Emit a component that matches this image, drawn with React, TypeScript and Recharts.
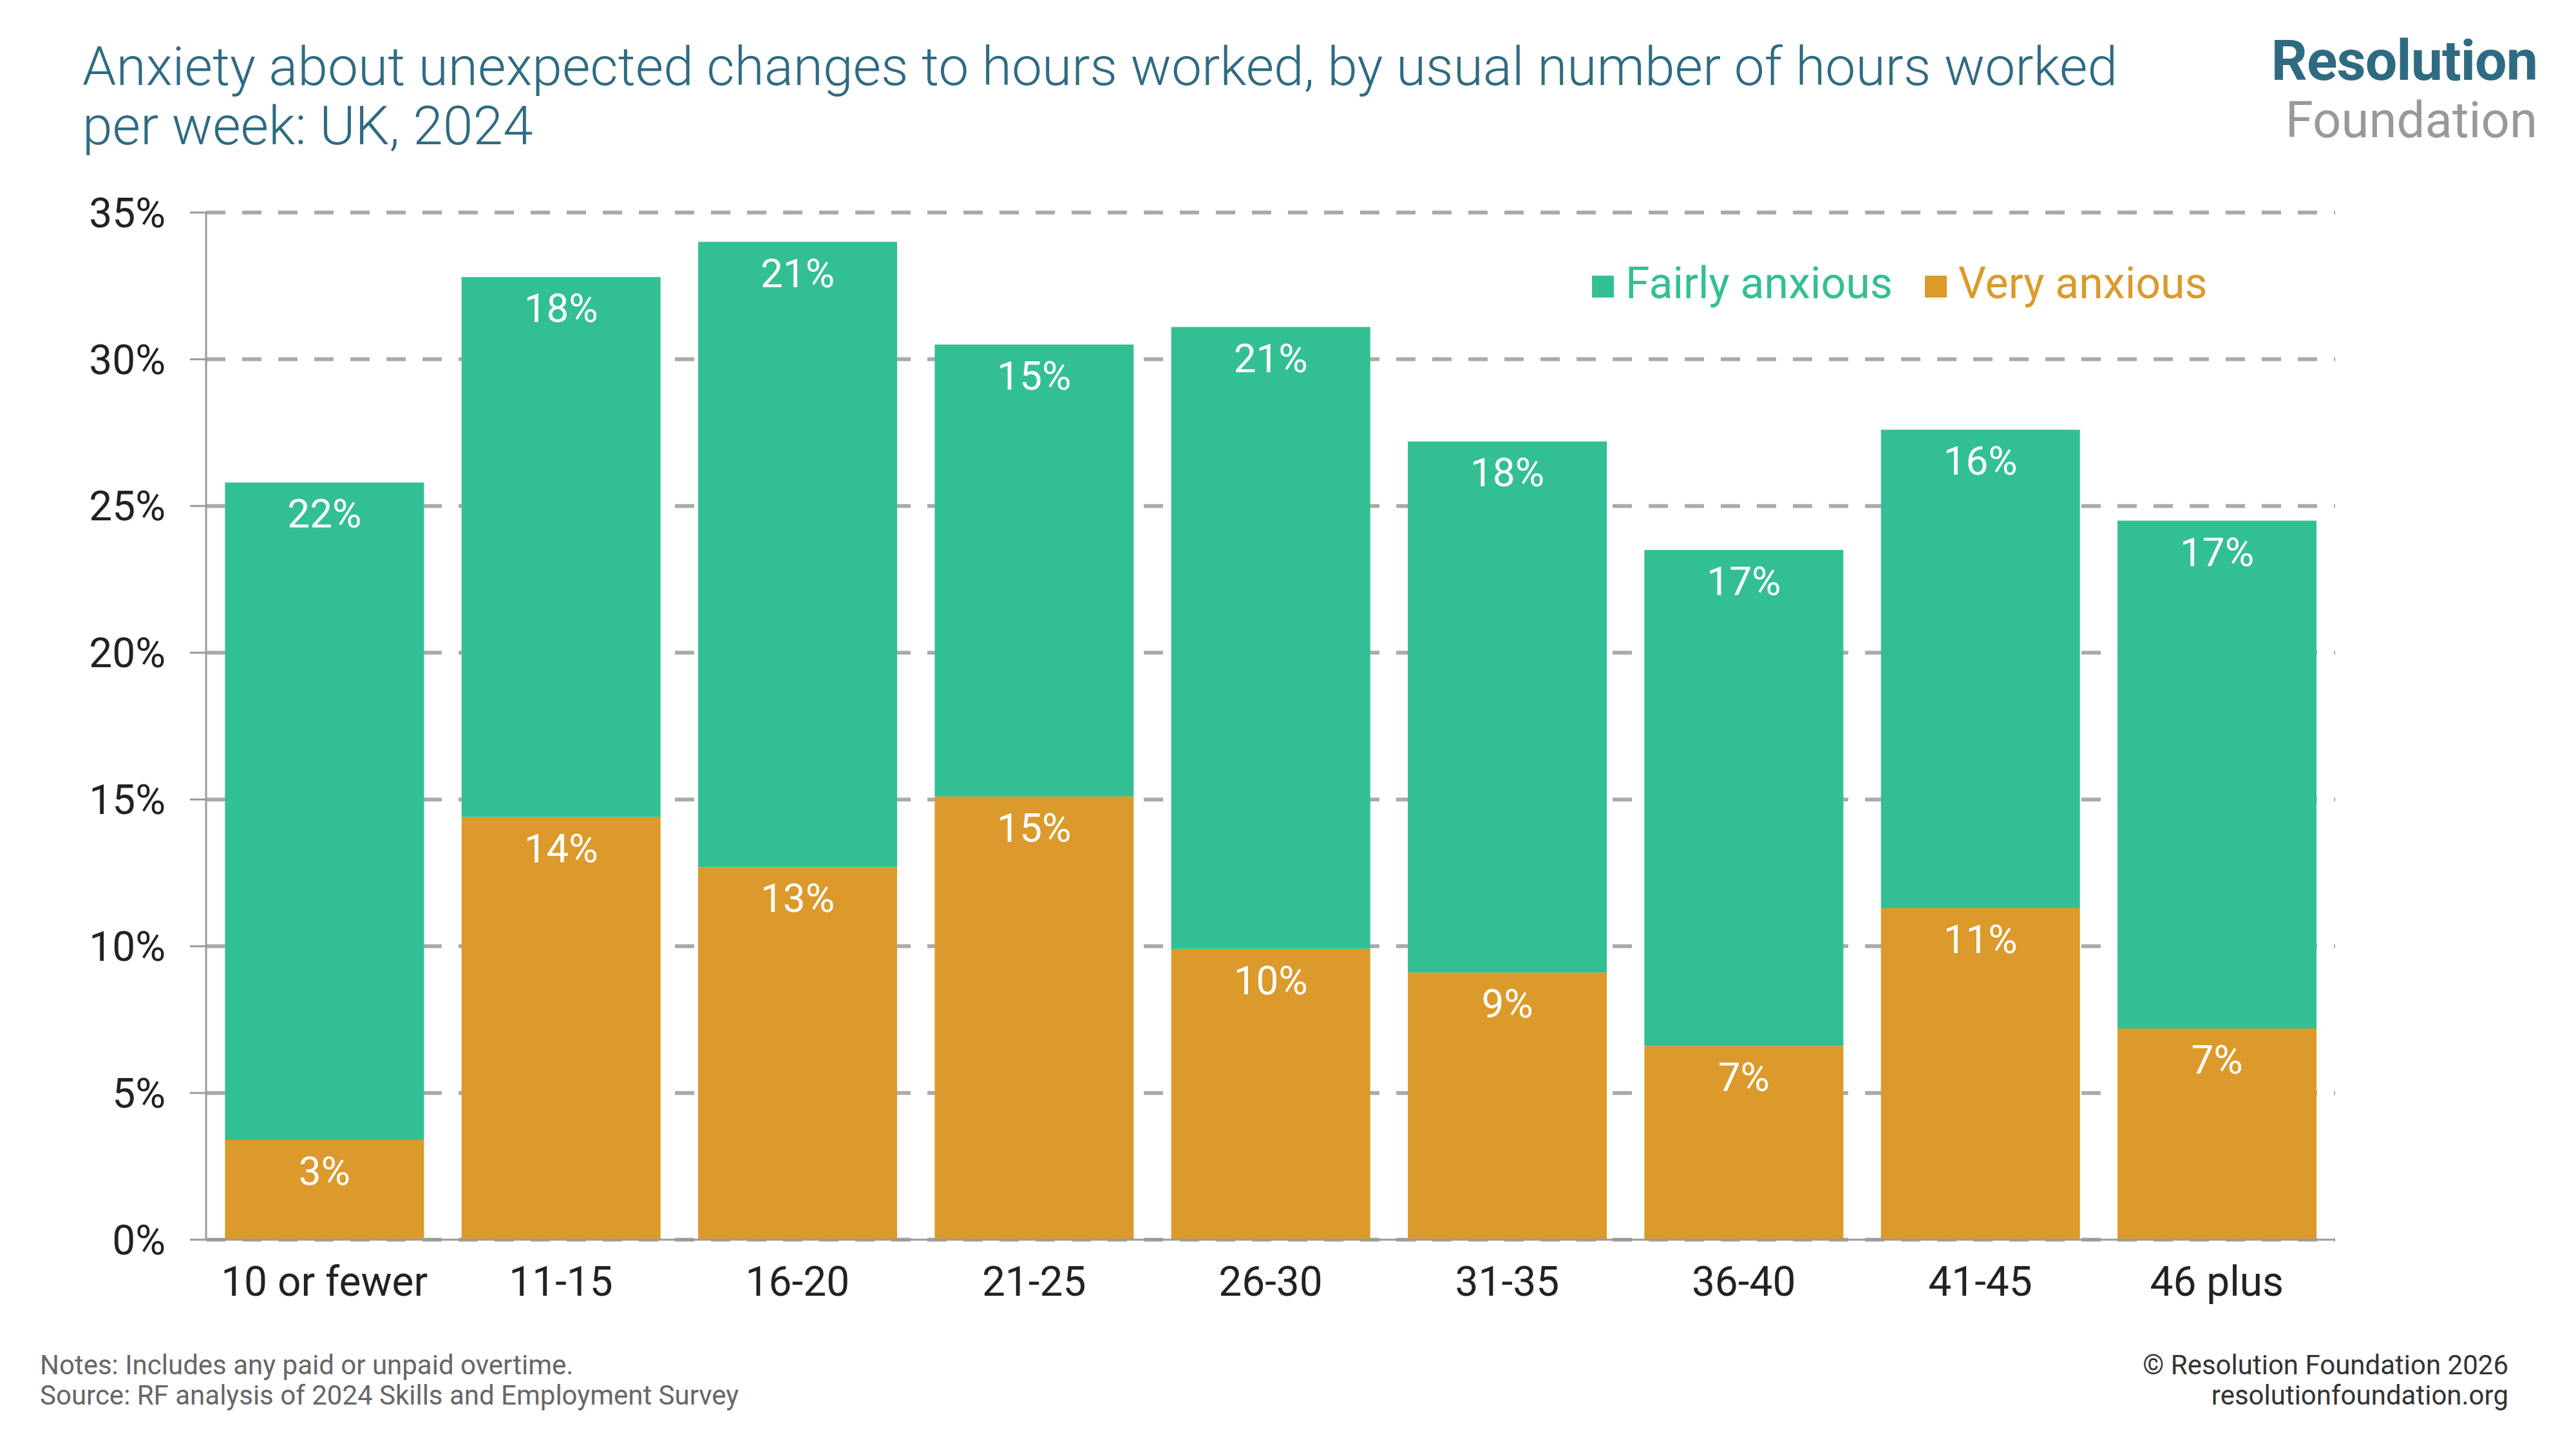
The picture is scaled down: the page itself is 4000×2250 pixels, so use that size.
import React from 'react';
import { BarChart, Bar, XAxis, YAxis, CartesianGrid, LabelList } from 'recharts';

const categories = ['10 or fewer', '11-15', '16-20', '21-25', '26-30', '31-35', '36-40', '41-45', '46 plus'];
const veryAnxious = [3.4, 14.4, 12.7, 15.1, 9.9, 9.1, 6.6, 11.3, 7.2];
const fairlyAnxious = [22.4, 18.4, 21.3, 15.4, 21.2, 18.1, 16.9, 16.3, 17.3];
const yTicks = [0, 5, 10, 15, 20, 25, 30, 35];

const data = categories.map((c, i) => ({ cat: c, very: veryAnxious[i], fairly: fairlyAnxious[i] }));

const GREEN = '#33bf94';
const ORANGE = '#db9a2b';
const TEAL = '#2e6b82';
const FONT = 'Roboto, "Open Sans", sans-serif';

const fmt = (v: any) => `${Math.round(Number(v))}%`;

export default function App() {
  return (
    <div style={{ position: 'absolute', left: 0, top: 0, width: 4000, height: 2250, background: '#fff', fontFamily: FONT }}>
      <div style={{ position: 'absolute', left: 128, top: 58, width: 3300, fontSize: 84, lineHeight: '92px', color: TEAL, fontWeight: 300 }}>
        Anxiety about unexpected changes to hours worked, by usual number of hours worked<br />per week: UK, 2024
      </div>
      <div style={{ position: 'absolute', right: 60, top: 46, textAlign: 'right' }}>
        <div style={{ fontSize: 88, lineHeight: '96px', fontWeight: 700, color: TEAL, letterSpacing: -1 }}>Resolution</div>
        <div style={{ fontSize: 78, lineHeight: '90px', color: '#999' }}>Foundation</div>
      </div>
      <BarChart
        width={4000}
        height={2250}
        data={data}
        margin={{ top: 330, right: 374, left: 0, bottom: 205 }}
        barCategoryGap="8%"
      >
        <CartesianGrid vertical={false} stroke="#aaa" strokeWidth={6} strokeDasharray="30 26" />
        <XAxis
          dataKey="cat"
          height={120}
          tickLine={false}
          stroke="#999"
          strokeWidth={3}
          tick={{ fill: '#222', fontSize: 64, fontFamily: FONT }}
          tickMargin={36}
        />
        <YAxis
          width={320}
          domain={[0, 35]}
          ticks={yTicks}
          tickFormatter={(v) => `${v}%`}
          stroke="#999"
          strokeWidth={3}
          tickSize={25}
          tickMargin={38}
          tick={{ fill: '#222', fontSize: 64, fontFamily: FONT }}
        />
        <Bar dataKey="very" stackId="a" fill={ORANGE} isAnimationActive={false}>
          <LabelList dataKey="very" position="insideTop" offset={26} formatter={fmt} fill="#fff" fontSize={62} fontFamily={FONT} />
        </Bar>
        <Bar dataKey="fairly" stackId="a" fill={GREEN} isAnimationActive={false}>
          <LabelList dataKey="fairly" position="insideTop" offset={26} formatter={fmt} fill="#fff" fontSize={62} fontFamily={FONT} />
        </Bar>
      </BarChart>
      <div style={{ position: 'absolute', left: 2472, top: 400, display: 'flex', alignItems: 'center', fontSize: 68 }}>
        <span style={{ width: 34, height: 34, background: GREEN, marginRight: 18, marginTop: 10 }} />
        <span style={{ color: GREEN }}>Fairly anxious</span>
        <span style={{ width: 34, height: 34, background: ORANGE, marginLeft: 50, marginRight: 18, marginTop: 10 }} />
        <span style={{ color: ORANGE }}>Very anxious</span>
      </div>
      <div style={{ position: 'absolute', left: 62, top: 2096, fontSize: 42, lineHeight: '47px', color: '#666' }}>
        Notes: Includes any paid or unpaid overtime.<br />Source: RF analysis of 2024 Skills and Employment Survey
      </div>
      <div style={{ position: 'absolute', right: 105, top: 2096, textAlign: 'right', fontSize: 42, lineHeight: '47px', color: '#333' }}>
        © Resolution Foundation 2026<br />resolutionfoundation.org
      </div>
    </div>
  );
}
